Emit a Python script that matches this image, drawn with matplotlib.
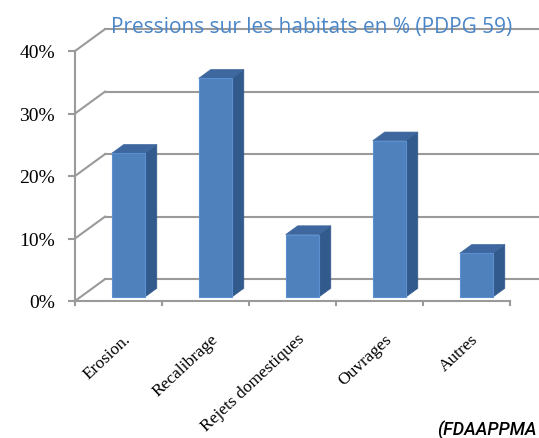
import numpy as np
import matplotlib.pyplot as plt
from matplotlib.patches import Polygon

# data
categories = ['Erosion.', 'Recalibrage', 'Rejets domestiques', 'Ouvrages', 'Autres']
values = [23, 35, 10, 25, 7]          # % of pressions
yticks = [0, 10, 20, 30, 40]
ytick_labels = ['0%', '10%', '20%', '30%', '40%']
title = 'Pressions sur les habitats en % (PDPG 59)'
source = '(FDAAPPMA'

# fake 3D layout (data units)
ddx, ddy = 0.345, 3.5      # depth of the back wall
f0, fd = 0.18, 0.40        # bar front depth / bar depth (fraction)
bw = 0.38                  # bar width
grid_c = '#9a9a9a'
front_c, side_c, top_c = '#4f81bd', '#335a8c', '#3d679e'

fig = plt.figure(figsize=(5.39, 4.39), dpi=100)
ax = fig.add_axes([0, 0, 1, 1])
ax.set_xlim(-75 / 87, 464 / 87)
ax.set_ylim(-137 / 6.25, 302 / 6.25)
ax.axis('off')

n = len(categories)
# walls: slanted lines + back gridlines
for v, lab in zip(yticks, ytick_labels):
    ax.plot([0, ddx], [v, v + ddy], color=grid_c, lw=1.5, zorder=1)
    ax.plot([ddx, n + ddx + 1], [v + ddy, v + ddy], color=grid_c, lw=1.5, zorder=1)
    ax.plot([-0.07, 0], [v, v], color=grid_c, lw=1.5, zorder=1)
    ax.text(-0.23, v - 0.3, lab, ha='right', va='center',
            fontsize=14, family='Liberation Serif')
# front axes
ax.plot([0, 0], [0, yticks[-1]], color=grid_c, lw=1.5, zorder=1)
ax.plot([0, n], [0, 0], color=grid_c, lw=1.5, zorder=1)
for i in range(n + 1):
    ax.plot([i, i], [0, -0.7], color=grid_c, lw=1.5, zorder=1)

# bars
for i, v in enumerate(values):
    cx = i + 0.5 + f0 * ddx + 0.05
    x0, x1 = cx - bw / 2, cx + bw / 2
    y0 = f0 * ddy
    y1 = v + f0 * ddy
    ox, oy = fd * ddx, fd * ddy
    ax.add_patch(Polygon([(x1, y0), (x1 + ox, y0 + oy), (x1 + ox, y1 + oy), (x1, y1)],
                         closed=True, fc=side_c, ec=side_c, lw=0.5, zorder=3))
    ax.add_patch(Polygon([(x0, y1), (x1, y1), (x1 + ox, y1 + oy), (x0 + ox, y1 + oy)],
                         closed=True, fc=top_c, ec=top_c, lw=0.5, zorder=3))
    ax.add_patch(Polygon([(x0, y0), (x1, y0), (x1, y1), (x0, y1)],
                         closed=True, fc=front_c, ec='#5b8fd0', lw=0.8, zorder=4))
    ax.text(i + 0.55, -4.7, categories[i], rotation=43, rotation_mode='anchor',
            ha='right', va='top', fontsize=12.5, family='Liberation Serif')

ax.text(2.72, 43.0, title, ha='center', va='baseline', fontsize=15,
        color='#4a86c8', family='Open Sans', weight='medium')
fig.text(537 / 539, 1 - 430 / 439, source, ha='right', va='center', fontsize=13,
         style='italic', weight='medium', family=['Roboto', 'DejaVu Sans'])

fig.savefig('out.png', dpi=100, facecolor='white')
